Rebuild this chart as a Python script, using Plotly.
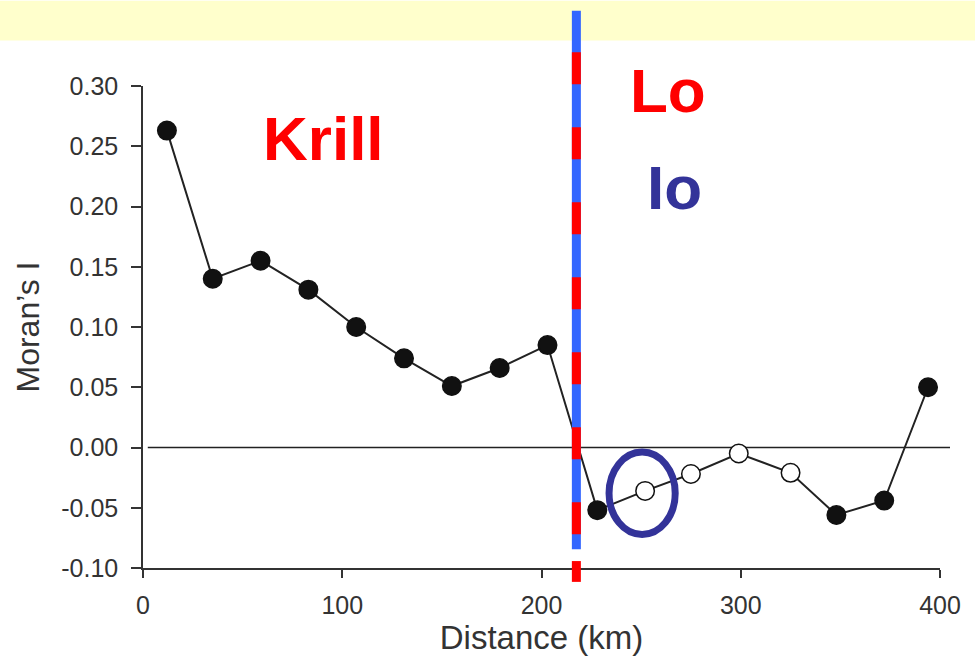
import plotly.graph_objects as go

# Data
distance_km = [12, 35, 59, 83, 107, 131, 155, 179, 203, 228, 252, 275, 299, 325, 348, 372, 394]
morans_i = [0.263, 0.140, 0.155, 0.131, 0.100, 0.074, 0.051, 0.066, 0.085,
            -0.052, -0.036, -0.022, -0.005, -0.021, -0.056, -0.044, 0.050]
significant = [True] * 10 + [False] * 4 + [True] * 3
x_ticks = [0, 100, 200, 300, 400]
y_ticks = [-0.10, -0.05, 0.00, 0.05, 0.10, 0.15, 0.20, 0.25, 0.30]
divider_km = 217.5
circle_center = (250.5, -0.038)

W, H = 975, 657
L, R, T, B = 143, 35, 86, 85
pw = W - L - R
ph = H - T - B

def py(pixel_y):
    return (H - B - pixel_y) / ph

def px(pixel_x):
    return (pixel_x - L) / pw

fill_colors = ["#111111" if s else "white" for s in significant]

fig = go.Figure()
fig.add_trace(go.Scatter(
    x=distance_km, y=morans_i, mode="lines+markers",
    line=dict(color="#222222", width=2),
    marker=dict(size=18.5, color=fill_colors, line=dict(color="#111111", width=1.5)),
    showlegend=False, hoverinfo="x+y",
))

shapes = []
# yellow banner
shapes.append(dict(type="rect", xref="paper", yref="paper",
                   x0=px(0), x1=px(W), y0=py(40), y1=py(0),
                   fillcolor="#FFFFCC", line=dict(width=0), layer="below"))
# zero line
shapes.append(dict(type="line", xref="paper", yref="y", x0=0.006, x1=px(950),
                   y0=0, y1=0, line=dict(color="#222222", width=1.5), layer="below"))
# divider: blue solid under red dashed
shapes.append(dict(type="line", xref="x", yref="paper", x0=divider_km, x1=divider_km,
                   y0=py(10), y1=py(553), line=dict(color="#3366FF", width=9)))
shapes.append(dict(type="line", xref="x", yref="paper", x0=divider_km, x1=divider_km,
                   y0=py(52), y1=py(540), line=dict(color="#FF0000", width=9, dash="32px,43px")))
shapes.append(dict(type="line", xref="x", yref="paper", x0=divider_km, x1=divider_km,
                   y0=py(565), y1=py(586), line=dict(color="#FF0000", width=9)))
# ellipse
cx, cy = circle_center
shapes.append(dict(type="circle", xref="x", yref="y",
                   x0=cx - 16.6, x1=cx + 16.6, y0=cy - 0.0342, y1=cy + 0.0342,
                   line=dict(color="#333399", width=7)))

big = dict(size=62, family="Liberation Sans, Arial, sans-serif")

fig.update_layout(
    width=W, height=H,
    margin=dict(l=L, r=R, t=T, b=B, pad=0),
    paper_bgcolor="white", plot_bgcolor="white",
    font=dict(family="Liberation Sans, Arial, sans-serif", color="#333333", size=25),
    shapes=shapes,
    xaxis=dict(range=[0, 400], tickvals=x_ticks, ticktext=[str(v) for v in x_ticks],
               showgrid=False, zeroline=False, showline=True, linecolor="#333333", linewidth=1.5,
               ticks="outside", ticklen=8, tickwidth=1.5, tickcolor="#333333",
               ticklabelstandoff=6, tickfont=dict(size=25),
               title=dict(text="Distance (km)", standoff=3, font=dict(size=33))),
    yaxis=dict(range=[-0.1, 0.3], tickvals=y_ticks, ticktext=[f"{v:.2f}" for v in y_ticks],
               showgrid=False, zeroline=False, showline=True, linecolor="#333333", linewidth=1.5,
               ticks="outside", ticklen=10, tickwidth=1.5, tickcolor="#333333",
               ticklabelstandoff=8, tickfont=dict(size=25),
               title=dict(text="Moran’s I", standoff=12, font=dict(size=32))),
    annotations=[
        dict(text="<b>Krill</b>", x=px(323), y=py(139), xref="paper", yref="paper",
             xanchor="center", yanchor="middle", showarrow=False,
             font=dict(color="#FF0000", **big)),
        dict(text="<b>Lo</b>", x=px(668), y=py(91), xref="paper", yref="paper",
             xanchor="center", yanchor="middle", showarrow=False,
             font=dict(color="#FF0000", **big)),
        dict(text="<b>Io</b>", x=px(674), y=py(188), xref="paper", yref="paper",
             xanchor="center", yanchor="middle", showarrow=False,
             font=dict(color="#333399", **big)),
    ],
)

fig.write_html("out.html", config={"displayModeBar": False},
               post_script="document.body.style.margin='0';document.body.style.padding='0';")
